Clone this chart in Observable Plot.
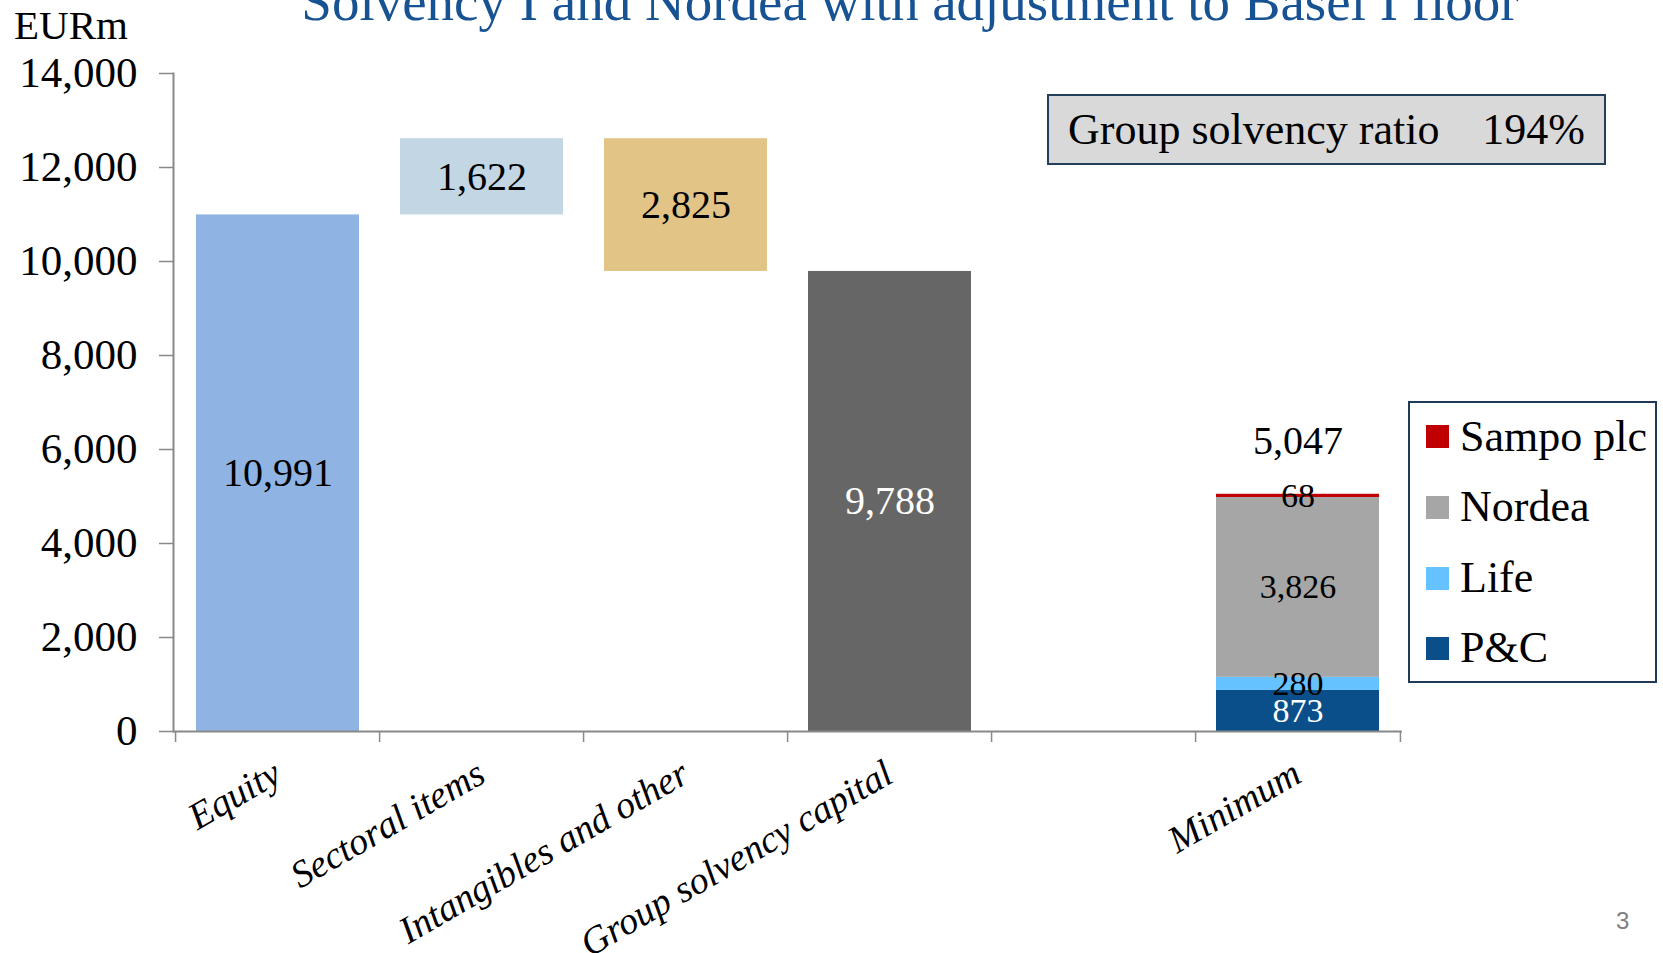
<!DOCTYPE html>
<html><head><meta charset="utf-8">
<script src="https://cdn.jsdelivr.net/npm/d3@7"></script>
<script src="https://cdn.jsdelivr.net/npm/@observablehq/plot@0.6"></script>
<style>
html,body{margin:0;padding:0;background:#fff;}
#wrap{position:relative;width:1663px;height:953px;overflow:hidden;font-family:"Liberation Serif",serif;color:#000;}
#wrap svg{position:absolute;left:0;top:0;}
.abs{position:absolute;white-space:nowrap;line-height:1;}
#title{top:-26px;left:910px;transform:translateX(-50%);font-size:55px;color:#175293;}
#unit{top:5px;left:14px;font-size:41px;}
#ratio{left:1047px;top:94px;width:559px;height:71px;box-sizing:border-box;background:#D9D9D9;border:2px solid #243F5C;display:flex;align-items:center;justify-content:space-between;padding:0 19px;font-size:44px;}
#legend{left:1408px;top:401px;width:249px;height:282px;box-sizing:border-box;border:2px solid #1F3A5A;background:#fff;}
.sw{position:absolute;width:23px;height:23px;left:16px;}
.lt{position:absolute;left:50px;font-size:44px;line-height:1;white-space:nowrap;}
#page{top:909px;left:1616px;font-size:24px;color:#7F7F7F;font-family:"Liberation Sans",sans-serif;}
</style></head>
<body><div id="wrap"></div>
<script>
const categories = ["Equity", "Sectoral items", "Intangibles and other", "Group solvency capital", " ", "Minimum"];
const waterfallNames = ["Equity", "Sectoral items", "Intangibles and other", "Group solvency capital"];
const waterfallValues = [10991, 1622, -2825, 9788];
const waterfallIsTotal = [true, false, false, true];
const waterfallColors = ["#8FB4E3", "#C2D6E4", "#E2C487", "#666666"];
const waterfallLabelColors = ["#000", "#000", "#000", "#fff"];
const minimumCategory = "Minimum";
const segmentNames = ["P&C", "Life", "Nordea", "Sampo plc"];
const segmentValues = [873, 280, 3826, 68];
const segmentColors = ["#0B4F8A", "#66C2FF", "#A6A6A6", "#C00000"];
const segmentLabelColors = ["#fff", "#000", "#000", "#000"];
const yTicks = [0, 2000, 4000, 6000, 8000, 10000, 12000, 14000];
const titleText = "Solvency I and Nordea with adjustment to Basel I floor";
const unitText = "EURm";
const ratioLabel = "Group solvency ratio";
const ratioValue = "194%";
const pageNumber = "3";

const fmt = d3.format(",");

// waterfall rows
let running = 0;
const wf = waterfallNames.map((name, i) => {
  const v = waterfallValues[i];
  let y1, y2;
  if (waterfallIsTotal[i]) { y1 = 0; y2 = v; running = v; }
  else { y1 = running; y2 = running + v; running += v; }
  return {name, y1, y2, mid: (y1 + y2) / 2, label: fmt(Math.abs(v)), color: waterfallColors[i], labelColor: waterfallLabelColors[i]};
});

// stacked minimum
let acc = 0;
const stack = segmentNames.map((name, i) => {
  const y1 = acc; acc += segmentValues[i];
  return {name, y1, y2: acc, mid: (y1 + acc) / 2, label: fmt(segmentValues[i]), color: segmentColors[i], labelColor: segmentLabelColors[i]};
});
const minimumTotal = acc;

const W = 1663, H = 953, mL = 173, mR = 261, mT = 73, mB = 222;
const step = (W - mL - mR) / categories.length;
const labelCats = categories.filter(c => c.trim() !== "");

const chart = Plot.plot({
  width: W, height: H,
  marginLeft: mL, marginRight: mR, marginTop: mT, marginBottom: mB,
  style: {fontFamily: "'Liberation Serif', serif", background: "transparent", overflow: "visible", color: "#000"},
  x: {domain: categories, paddingInner: 0.2, paddingOuter: 0.1, label: null},
  y: {domain: [0, 14000], label: null},
  color: {type: "identity"},
  marks: [
    Plot.barY(wf, {x: "name", y1: "y1", y2: "y2", fill: "color"}),
    Plot.barY(stack, {x: () => minimumCategory, y1: "y1", y2: "y2", fill: "color"}),
    Plot.ruleY([0], {stroke: "#898989", strokeWidth: 2}),
    Plot.frame({anchor: "left", stroke: "#898989", strokeWidth: 2}),
    Plot.axisY(yTicks, {tickSize: 14, tickPadding: 22, tickFormat: fmt, fontSize: 43, stroke: "#898989", strokeWidth: 1.5, fill: "#000", label: null}),
    Plot.axisX(categories, {tickSize: 11, tickFormat: () => "", dx: -step / 2, stroke: "#898989", strokeWidth: 1.5, label: null}),
    Plot.axisX([categories[categories.length - 1]], {tickSize: 11, tickFormat: () => "", dx: step / 2, stroke: "#898989", strokeWidth: 1.5, label: null}),
    Plot.text(labelCats, {x: d => d, text: d => d, frameAnchor: "bottom", dx: -8, dy: 26, rotate: -30, textAnchor: "end", lineAnchor: "top", fontStyle: "italic", fontSize: 38, fill: "#000"}),
    Plot.text(wf, {x: "name", y: "mid", text: "label", fill: "labelColor", fontSize: 40}),
    Plot.text(stack, {x: () => minimumCategory, y: "mid", text: "label", fill: "labelColor", fontSize: 34}),
    Plot.text([minimumTotal], {x: () => minimumCategory, y: d => d, text: d => fmt(d), dy: -53, fontSize: 40, fill: "#000"})
  ]
});

const wrap = document.getElementById("wrap");
wrap.appendChild(chart);

function addDiv(id, text) {
  const d = document.createElement("div");
  d.id = id; d.className = "abs"; d.textContent = text;
  wrap.appendChild(d); return d;
}
addDiv("title", titleText);
addDiv("unit", unitText);
const ratio = addDiv("ratio", "");
const rl = document.createElement("span"); rl.textContent = ratioLabel; ratio.appendChild(rl);
const rv = document.createElement("span"); rv.textContent = ratioValue; ratio.appendChild(rv);
addDiv("page", pageNumber);

const legend = addDiv("legend", "");
const rowCenters = [35.5, 106, 177, 247];
segmentNames.slice().reverse().forEach((name, k) => {
  const i = segmentNames.length - 1 - k;
  const c = rowCenters[k];
  const sw = document.createElement("div");
  sw.className = "sw"; sw.style.top = (c - 11.5 - 2) + "px"; sw.style.background = segmentColors[i];
  legend.appendChild(sw);
  const t = document.createElement("div");
  t.className = "lt"; t.style.top = (c - 22 - 2) + "px"; t.textContent = name;
  legend.appendChild(t);
});
</script>
</body></html>
